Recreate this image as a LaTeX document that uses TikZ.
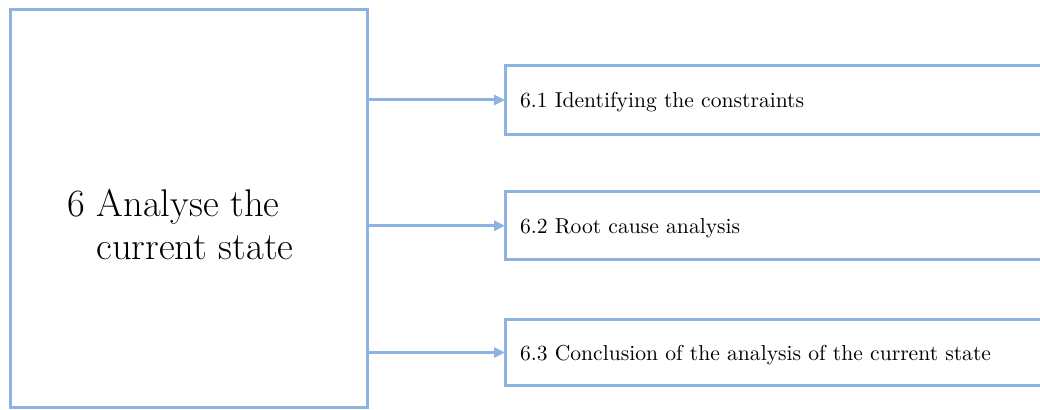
\documentclass[tikz,border=0pt]{standalone}
\usetikzlibrary{arrows.meta}
\definecolor{boxblue}{RGB}{141,179,226}
\begin{document}
\begin{tikzpicture}[x=0.5pt,y=-0.5pt,
  frame/.style={draw=boxblue, line width=1.5pt, outer sep=0pt},
  bigbox/.style={frame, anchor=north west, inner sep=0pt,
    minimum width=178.75pt, minimum height=199.25pt},
  subbox/.style={frame, anchor=north west, text width=255pt, inner xsep=7.5pt,
    align=left, text height=9pt, text depth=1pt,
    font=\fontsize{10.8}{13}\selectfont},
  title/.style={inner sep=0pt, align=left, font=\fontsize{19.3}{21.5}\selectfont},
  link/.style={draw=boxblue, line width=1.5pt, -{Triangle[length=5.5pt,width=5pt]}}]
\useasboundingbox (0,0) rectangle (1040,410);
\clip (0,0) rectangle (1040,410);

% parent step
\node[bigbox] (main) at (10,9.5) {};
\node[title, anchor=base west] (maintext) at (67,260)
  {6 Analyse the\\\hspace*{14.5pt}current state};

% sub-steps
\node[subbox, minimum height=34.5pt] (s1) at (505,65.5) {6.1 Identifying the constraints};
\node[subbox, minimum height=33.75pt] (s2) at (505,192) {6.2 Root cause analysis};
\node[subbox, minimum height=33pt] (s3) at (505,319.5) {6.3 Conclusion of the analysis of the current state};

% connectors
\foreach \s in {s1,s2,s3}
  \draw[link] (main.east |- \s.west) -- (\s.west);
\end{tikzpicture}
\end{document}
